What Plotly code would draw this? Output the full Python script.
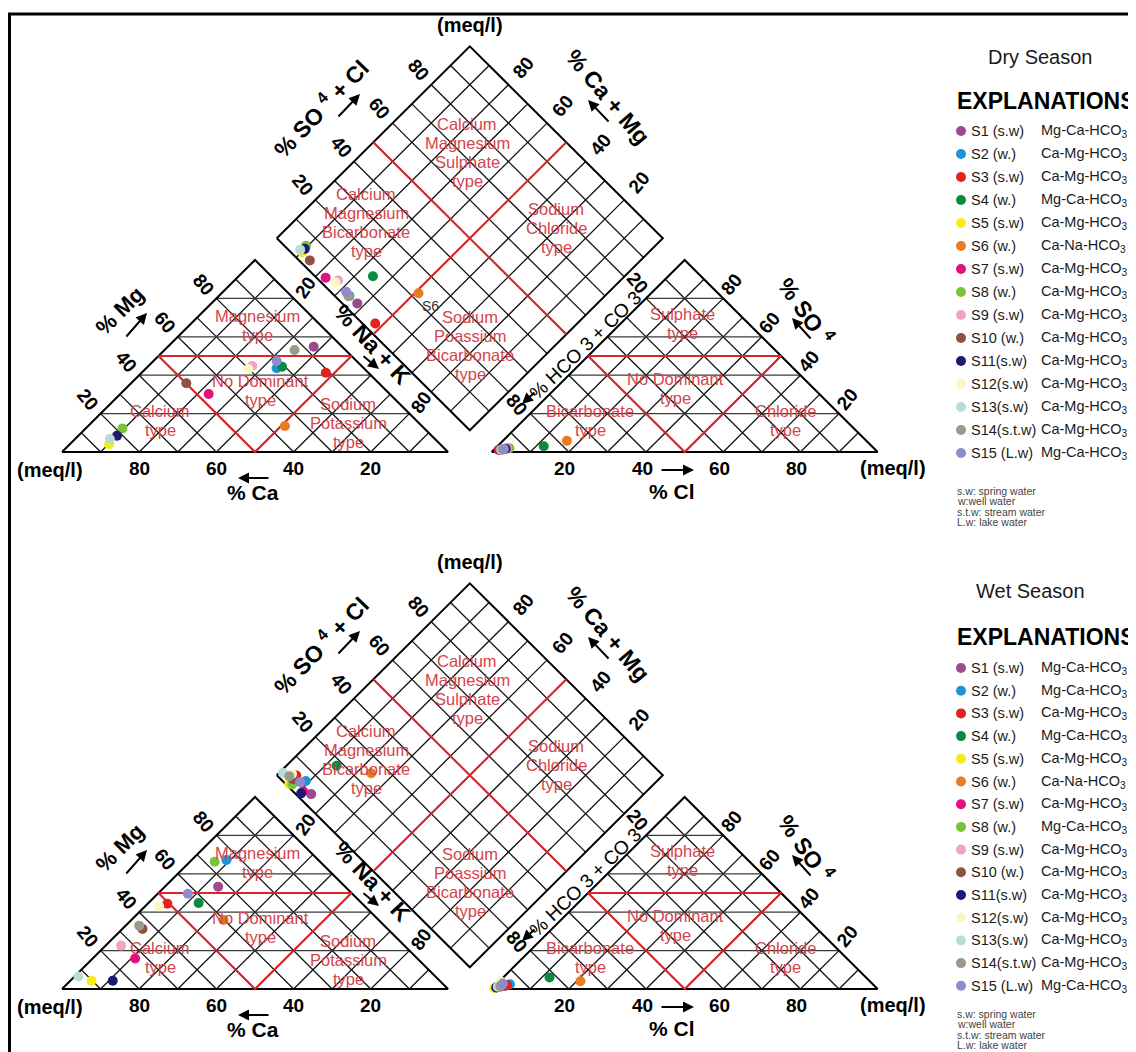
import plotly.graph_objects as go

# ---------------- data (percent of meq/l) ----------------
samples = ["S1", "S2", "S3", "S4", "S5", "S6", "S7", "S8", "S9", "S10", "S11", "S12", "S13", "S14", "S15"]
names = ["S1 (s.w)", "S2 (w.)", "S3 (s.w)", "S4 (w.)", "S5 (s.w)", "S6 (w.)", "S7 (s.w)", "S8 (w.)",
         "S9 (s.w)", "S10 (w.)", "S11(s.w)", "S12(s.w)", "S13(s.w)", "S14(s.t.w)", "S15 (L.w)"]
colors = ["#9b4a8c", "#1f93d8", "#e3211d", "#0c8a3f", "#f6ec16", "#e97b20", "#e2127c", "#7cc23b",
          "#f2a3c3", "#8d5141", "#1c1b72", "#fbf6c4", "#b9ddd0", "#9b998a", "#8e8ccb"]

dry_types = ["Mg-Ca-HCO3", "Ca-Mg-HCO3", "Ca-Mg-HCO3", "Mg-Ca-HCO3", "Ca-Mg-HCO3", "Ca-Na-HCO3",
             "Ca-Mg-HCO3", "Ca-Mg-HCO3", "Ca-Mg-HCO3", "Ca-Mg-HCO3", "Ca-Mg-HCO3", "Ca-Mg-HCO3",
             "Ca-Mg-HCO3", "Ca-Mg-HCO3", "Mg-Ca-HCO3"]
wet_types = ["Mg-Ca-HCO3", "Mg-Ca-HCO3", "Ca-Mg-HCO3", "Mg-Ca-HCO3", "Ca-Mg-HCO3", "Ca-Na-HCO3",
             "Ca-Mg-HCO3", "Mg-Ca-HCO3", "Ca-Mg-HCO3", "Ca-Mg-HCO3", "Ca-Mg-HCO3", "Ca-Mg-HCO3",
             "Ca-Mg-HCO3", "Ca-Mg-HCO3", "Mg-Ca-HCO3"]

# Dry season cations
dry_ca = [7.4, 22.6, 11.0, 20.8, 85.8, 35.5, 46.9, 78.2, 28.3, 49.9, 81.5, 30.1, 84.2, 13.2, 20.7]
dry_mg = [54.8, 43.6, 41.3, 44.4, 4.0, 13.5, 30.2, 12.3, 44.8, 35.8, 8.5, 43.2, 6.8, 53.1, 47.4]
dry_nak = [37.8, 33.8, 47.7, 34.8, 10.2, 51.0, 22.9, 9.5, 26.9, 14.3, 10.0, 26.7, 9.0, 33.7, 31.9]
# Dry season anions
dry_hco3 = [96.1, 96.2, 96.7, 85.0, 97.0, 77.6, 97.6, 94.4, 95.1, 97.2, 95.5, 96.3, 96.9, 96.5, 96.0]
dry_cl = [2.5, 2.4, 2.0, 12.0, 1.8, 16.6, 1.3, 3.6, 3.0, 1.7, 2.8, 2.3, 1.9, 2.2, 2.4]
dry_so4 = [1.4, 1.4, 1.3, 3.0, 1.2, 5.8, 1.1, 2.0, 1.9, 1.1, 1.7, 1.4, 1.2, 1.3, 1.6]

# Wet season cations
wet_ca = [32.9, 23.8, 50.5, 42.2, 90.2, 40.2, 73.1, 27.3, 73.4, 63.5, 84.7, 53.3, 92.5, 63.5, 42.6]
wet_mg = [53.3, 67.2, 44.4, 44.8, 4.3, 35.9, 15.9, 66.3, 22.6, 31.3, 4.3, 43.1, 6.5, 33.0, 49.6]
wet_nak = [13.8, 9.0, 5.1, 13.0, 5.5, 23.9, 11.0, 6.4, 4.0, 5.2, 11.0, 3.6, 1.0, 3.5, 7.8]
# Wet season anions
wet_hco3 = [96.0, 94.0, 95.0, 82.0, 99.0, 75.0, 97.3, 98.4, 97.0, 96.8, 98.4, 95.7, 97.8, 97.0, 95.7]
wet_cl = [2.5, 3.5, 3.0, 12.0, 0.5, 21.0, 1.5, 0.8, 1.5, 1.8, 0.8, 0.3, 1.0, 1.5, 1.5]
wet_so4 = [1.5, 2.5, 2.0, 6.0, 0.5, 4.0, 1.2, 0.8, 1.5, 1.4, 0.8, 4.0, 1.2, 1.5, 2.8]

tick_vals = [20, 40, 60, 80]
footnotes = ["s.w: spring water", "w:well water", "s.t.w: stream water", "L.w: lake water"]

# ---------------- geometry (Piper layout, page-pixel frame) ----------------
S = 386.0      # triangle side (px)
G = 0.113      # gap between triangles (fraction of side)
HT = 192.0     # triangle height (px)
X0 = 62.0      # left corner of cation triangle
PANELS = [("dry", 452.0), ("wet", 989.0)]

RED = "#d9252b"
TXT_RED = "#d4444c"
FONT = "Liberation Sans, Arial, sans-serif"
BODY = 8  # default page margin of the html body


def cat_xy(ca, mg, na, y0):
    t = ca + mg + na
    return X0 + S * (na + mg / 2.0) / t, y0 - HT * mg / t


def an_xy(hco3, cl, so4, y0):
    t = hco3 + cl + so4
    return X0 + S * (1 + G) + S * (cl + so4 / 2.0) / t, y0 - HT * so4 / t


def dia_xy(nak, so4cl, y0):
    lx = X0 + S * (0.5 + G / 2.0)
    ly = y0 - HT * (1 + G)
    return lx + (S / 2.0) * (nak + so4cl) / 100.0, ly + HT * (nak - so4cl) / 100.0


fig = go.Figure()
annotations = []


def add_lines(segs, color, width):
    xs, ys = [], []
    for seg in segs:
        for p in seg:
            xs.append(p[0]); ys.append(p[1])
        xs.append(None); ys.append(None)
    fig.add_trace(go.Scatter(x=xs, y=ys, mode="lines", line=dict(color=color, width=width),
                             hoverinfo="skip", showlegend=False))


def txt(x, y, text, size, angle=0, bold=False, color="black", xanchor="center"):
    annotations.append(dict(x=x, y=y, xref="x", yref="y", text=text, showarrow=False,
                            textangle=angle, xanchor=xanchor, yanchor="middle",
                            font=dict(size=size, color=color, family=FONT,
                                      weight="bold" if bold else "normal")))


def arrow(hx, hy, tx, ty):
    annotations.append(dict(x=hx, y=hy, ax=tx, ay=ty, xref="x", yref="y", axref="x", ayref="y",
                            text="", showarrow=True, arrowhead=2, arrowsize=1.1, arrowwidth=2,
                            arrowcolor="black"))


for pi, (season, y0) in enumerate(PANELS):
    dy = y0 - PANELS[0][1]
    steps = [10, 20, 30, 40, 50, 60, 70, 80, 90]
    grid = []
    for k in steps:
        grid.append([cat_xy(k, 100 - k, 0, y0), cat_xy(k, 0, 100 - k, y0)])
        grid.append([cat_xy(100 - k, 0, k, y0), cat_xy(0, 100 - k, k, y0)])
    for k in steps:
        grid.append([an_xy(100 - k, k, 0, y0), an_xy(0, k, 100 - k, y0)])
        grid.append([an_xy(k, 100 - k, 0, y0), an_xy(k, 0, 100 - k, y0)])
    for k in steps:
        grid.append([dia_xy(k, 0, y0), dia_xy(k, 100, y0)])
        grid.append([dia_xy(0, k, y0), dia_xy(100, k, y0)])
    add_lines(grid, "#111111", 1.3)

    horiz = []
    for k in tick_vals:
        horiz.append([cat_xy(100 - k, k, 0, y0), cat_xy(0, k, 100 - k, y0)])
        horiz.append([an_xy(100 - k, 0, k, y0), an_xy(0, 100 - k, k, y0)])
    add_lines(horiz, "#3a3a3a", 1.2)

    borders = [
        [cat_xy(100, 0, 0, y0), cat_xy(0, 0, 100, y0), cat_xy(0, 100, 0, y0), cat_xy(100, 0, 0, y0)],
        [an_xy(100, 0, 0, y0), an_xy(0, 100, 0, y0), an_xy(0, 0, 100, y0), an_xy(100, 0, 0, y0)],
        [dia_xy(0, 0, y0), dia_xy(100, 0, y0), dia_xy(100, 100, y0), dia_xy(0, 100, y0), dia_xy(0, 0, y0)],
    ]
    add_lines(borders, "#000000", 2)

    reds = [
        [cat_xy(50, 50, 0, y0), cat_xy(0, 50, 50, y0), cat_xy(50, 0, 50, y0), cat_xy(50, 50, 0, y0)],
        [an_xy(50, 0, 50, y0), an_xy(0, 50, 50, y0), an_xy(50, 50, 0, y0), an_xy(50, 0, 50, y0)],
        [dia_xy(50, 0, y0), dia_xy(50, 100, y0)],
        [dia_xy(0, 50, y0), dia_xy(100, 50, y0)],
    ]
    add_lines(reds, RED, 2)

    # ---------- sample points ----------
    if season == "dry":
        ca, mg, nak, hco3, cl, so4, types = dry_ca, dry_mg, dry_nak, dry_hco3, dry_cl, dry_so4, dry_types
    else:
        ca, mg, nak, hco3, cl, so4, types = wet_ca, wet_mg, wet_nak, wet_hco3, wet_cl, wet_so4, wet_types
    for i in range(len(samples)):
        p1 = cat_xy(ca[i], mg[i], nak[i], y0)
        p2 = an_xy(hco3[i], cl[i], so4[i], y0)
        tot_c = ca[i] + mg[i] + nak[i]
        tot_a = hco3[i] + cl[i] + so4[i]
        p3 = dia_xy(100 * nak[i] / tot_c, 100 * (cl[i] + so4[i]) / tot_a, y0)
        fig.add_trace(go.Scatter(x=[p1[0], p2[0], p3[0]], y=[p1[1], p2[1], p3[1]], mode="markers",
                                 marker=dict(size=10, color=colors[i], line=dict(width=0)),
                                 name=samples[i], showlegend=False))
        if season == "dry" and samples[i] == "S6":
            txt(p3[0] + 12, p3[1] + 13, "S6", 14, color="#333333")

    # ---------- tick labels ----------
    for k in tick_vals:
        x, y = cat_xy(100 - k, k, 0, y0)
        txt(x - 13, y - 14, str(k), 19, angle=50, bold=True)
        x, y = cat_xy(k, 0, 100 - k, y0)
        txt(x, y + 16, str(k), 19, bold=True)
        x, y = dia_xy(0, k, y0)
        txt(x - 13, y - 15, str(k), 19, angle=50, bold=True)
        x, y = dia_xy(100 - k, 100, y0)
        txt(x + 15, y - 17, str(k), 19, angle=-50, bold=True)
        x, y = an_xy(100 - k, k, 0, y0)
        txt(x - 4, y + 16, str(k), 19, bold=True)
        x, y = an_xy(0, 100 - k, k, y0)
        txt(x + 8, y - 14, str(k), 19, angle=-50, bold=True)
    for k in [20, 80]:
        a = cat_xy(0, 100 - k, k, y0); b = dia_xy(k, 0, y0)
        txt((a[0] + b[0]) / 2 + 1, (a[1] + b[1]) / 2, str(k), 19, angle=-55, bold=True)
        a = dia_xy(100, 100 - k, y0); b = an_xy(k, 0, 100 - k, y0)
        off = -5 if k == 20 else 2
        txt((a[0] + b[0]) / 2 + (2 if k == 20 else -3), (a[1] + b[1]) / 2 + off, str(k), 19, angle=50, bold=True)

    # ---------- axis titles ----------
    tx, ty = dia_xy(0, 100, y0)
    txt(tx, ty - 21, "(meq/l)", 20, bold=True)
    txt(50, 470 + dy, "(meq/l)", 20, bold=True)
    txt(893, 468 + dy, "(meq/l)", 20, bold=True)

    txt(320, 108 + dy, "% SO <sup>4</sup> + Cl", 23, angle=-46, bold=True)
    arrow(360, 94 + dy, 337, 118 + dy)
    txt(608, 97 + dy, "% Ca + Mg", 23, angle=50, bold=True)
    arrow(588, 100 + dy, 610, 123 + dy)
    txt(119, 311 + dy, "% Mg", 22, angle=-45, bold=True)
    arrow(147, 313 + dy, 125, 338 + dy)
    txt(253, 492 + dy, "% Ca", 21, bold=True)
    arrow(238, 478 + dy, 270, 478 + dy)
    txt(372, 344 + dy, "% Na + K", 23, angle=47, bold=True)
    arrow(379, 369 + dy, 362, 355 + dy)
    txt(585, 345 + dy, "% HCO 3 + CO 3", 19, angle=-44, bold=False)
    arrow(522, 404 + dy, 536, 391 + dy)
    txt(672, 491 + dy, "% Cl", 21, bold=True)
    arrow(694, 470 + dy, 660, 470 + dy)
    txt(806, 310 + dy, "% SO <sup>4</sup>", 23, angle=55, bold=True)
    arrow(792, 318 + dy, 812, 340 + dy)

    # ---------- region labels (one annotation per line, tight leading) ----------
    regions = [
        (467, 152, ["Calcium", "Magnesium", "Sulphate", "type"]),
        (366, 222, ["Calcium", "Magnesium", "Bicarbonate", "type"]),
        (556, 228, ["Sodium", "Chloride", "type"]),
        (470, 345, ["Sodium", "Poassium", "Bicarbonate", "type"]),
        (257, 325, ["Magnesium", "type"]),
        (260, 390, ["No Dominant", "type"]),
        (160, 420, ["Calcium", "type"]),
        (348, 423, ["Sodium", "Potassium", "type"]),
        (682, 323, ["Sulphate", "type"]),
        (675, 388, ["No Dominant", "type"]),
        (590, 420, ["Bicarbonate", "type"]),
        (785, 420, ["Chloride", "type"]),
    ]
    for rx, ry, lines in regions:
        n = len(lines)
        for j, ln in enumerate(lines):
            txt(rx, ry + dy + (j - (n - 1) / 2.0) * 19, ln, 16.5, color=TXT_RED)

    # ---------- legend block ----------
    if season == "dry":
        txt(1040, 57, "Dry Season", 20, color="#1a1a1a")
        head_y, row0, rstep, foot0 = 101, 131, 23.0, 491
    else:
        txt(1030, 591, "Wet Season", 20, color="#1a1a1a")
        head_y, row0, rstep, foot0 = 637, 668, 22.7, 1014
    txt(955, head_y, "EXPLANATIONS", 23, bold=True, xanchor="left")
    ly = [row0 + rstep * i for i in range(len(samples))]
    fig.add_trace(go.Scatter(x=[961] * len(samples), y=ly, mode="markers",
                             marker=dict(size=10, color=colors, line=dict(width=0)),
                             hoverinfo="skip", showlegend=False))
    for i in range(len(samples)):
        txt(969, ly[i], names[i], 14.5, xanchor="left", color="#1a1a1a")
        txt(1039, ly[i], types[i].replace("HCO3", "HCO<sub>3</sub>"), 14.5, xanchor="left", color="#1a1a1a")
    for j, f in enumerate(footnotes):
        txt(955, foot0 + 10.3 * j, f, 10.5, xanchor="left", color="#444444")

fig.update_layout(
    width=1136 - BODY, height=1052 - BODY,
    margin=dict(l=0, r=0, t=0, b=0, pad=0),
    paper_bgcolor="white", plot_bgcolor="white",
    xaxis=dict(range=[BODY, 1136], visible=False, fixedrange=True),
    yaxis=dict(range=[1052, BODY], visible=False, fixedrange=True),
    font=dict(family=FONT),
    annotations=annotations,
    shapes=[
        dict(type="line", xref="x", yref="y", x0=8, y0=14, x1=1136, y1=14, line=dict(color="black", width=3)),
        dict(type="line", xref="x", yref="y", x0=9.5, y0=13, x1=9.5, y1=1052, line=dict(color="black", width=3)),
    ],
    showlegend=False,
)

fig.write_html("out.html")
